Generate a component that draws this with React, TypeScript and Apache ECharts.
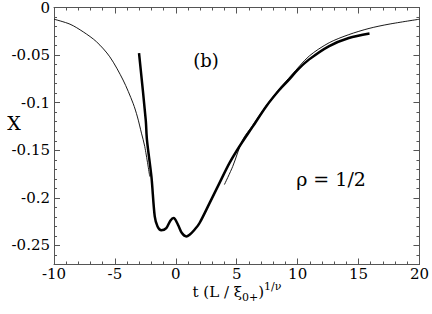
import React, { useEffect, useRef } from "react";
import * as echarts from "echarts";

const thinLeftX = [-10, -8.69, -7.6, -6.51, -5.42, -4.33, -3.51, -3.15, -2.82, -2.55, -2.14];
const thinLeftY = [-0.0123, -0.0175, -0.0256, -0.036, -0.0518, -0.0762, -0.1006, -0.115, -0.132, -0.146, -0.1776];

const thickX = [-3.02, -2.47, -2.37, -2.0, -1.73, -1.5, -1.19, -0.78, -0.45, -0.18, 0.17, 0.5, 0.86, 1.13, 1.5, 1.95, 2.77, 3.58, 4.4, 5.22, 6.31, 7.4, 8.49, 9.31, 10.0, 10.95, 12.59, 14.2, 15.9];
const thickY = [-0.048, -0.118, -0.139, -0.178, -0.2195, -0.23, -0.234, -0.2317, -0.224, -0.2212, -0.228, -0.237, -0.2405, -0.2387, -0.234, -0.2264, -0.2055, -0.1845, -0.1635, -0.146, -0.1252, -0.1042, -0.0867, -0.0755, -0.0655, -0.0545, -0.0405, -0.032, -0.0273];

const thinRightX = [3.99, 4.67, 5.49, 6.3, 7.4, 8.5, 9.5, 10.95, 12.59, 14.2, 15.86, 17.5, 20];
const thinRightY = [-0.186, -0.167, -0.139, -0.124, -0.1035, -0.0855, -0.071, -0.051, -0.037, -0.0285, -0.022, -0.0175, -0.0123];

const yMajorTicks = [0, -0.05, -0.1, -0.15, -0.2, -0.25];
const yMinorTicks = [-0.01, -0.02, -0.03, -0.04, -0.06, -0.07, -0.08, -0.09, -0.11, -0.12, -0.13, -0.14, -0.16, -0.17, -0.18, -0.19, -0.21, -0.22, -0.23, -0.24, -0.26];

const FONT = "DejaVu Serif";
const AXIS_COLOR = "#555";

function zip(xs: number[], ys: number[]) {
  return xs.map((x, i) => [x, ys[i]]);
}

export default function App() {
  const ref = useRef<HTMLDivElement>(null);
  useEffect(() => {
    if (!ref.current) return;
    const chart = echarts.init(ref.current, undefined, { renderer: "svg" });
    const common = { min: -0.27, max: 0, type: "value" as const, splitLine: { show: false } };
    const yAxes = [
      {
        ...common,
        position: "left",
        axisLine: { show: true, onZero: false, lineStyle: { color: AXIS_COLOR, width: 1 } },
        axisTick: { show: true, inside: true, length: 6, customValues: yMajorTicks, lineStyle: { color: AXIS_COLOR } },
        axisLabel: { show: true, customValues: yMajorTicks, margin: 4, color: "#000", fontFamily: FONT, fontSize: 15, formatter: (v: number) => String(v) },
      },
      {
        ...common,
        position: "left",
        axisLine: { show: false, onZero: false },
        axisTick: { show: true, inside: true, length: 3, customValues: yMinorTicks, lineStyle: { color: AXIS_COLOR } },
        axisLabel: { show: false },
      },
      {
        ...common,
        position: "right",
        axisLine: { show: true, onZero: false, lineStyle: { color: AXIS_COLOR, width: 1 } },
        axisTick: { show: true, inside: true, length: 6, customValues: yMajorTicks, lineStyle: { color: AXIS_COLOR } },
        axisLabel: { show: false },
      },
      {
        ...common,
        position: "right",
        axisLine: { show: false, onZero: false },
        axisTick: { show: true, inside: true, length: 3, customValues: yMinorTicks, lineStyle: { color: AXIS_COLOR } },
        axisLabel: { show: false },
      },
    ];
    const xCommon = { type: "value" as const, min: -10, max: 20, interval: 5, splitLine: { show: false } };
    const lineCommon = { type: "line", showSymbol: false, smooth: 0.3, xAxisIndex: 0, yAxisIndex: 0 };
    chart.setOption({
      animation: false,
      grid: { left: 54, right: 11, top: 7, bottom: 49.5, containLabel: false },
      xAxis: [
        {
          ...xCommon,
          position: "bottom",
          axisLine: { show: true, onZero: false, lineStyle: { color: AXIS_COLOR } },
          axisTick: { show: true, inside: true, length: 6, lineStyle: { color: AXIS_COLOR } },
          minorTick: { show: true, splitNumber: 5, length: 3, lineStyle: { color: AXIS_COLOR } },
          axisLabel: { show: true, margin: 2, color: "#000", fontFamily: FONT, fontSize: 15 },
        },
        {
          ...xCommon,
          position: "top",
          axisLine: { show: true, onZero: false, lineStyle: { color: AXIS_COLOR } },
          axisTick: { show: true, inside: true, length: 6, lineStyle: { color: AXIS_COLOR } },
          minorTick: { show: true, splitNumber: 5, length: 3, lineStyle: { color: AXIS_COLOR } },
          axisLabel: { show: false },
        },
      ],
      yAxis: yAxes,
      series: [
        { ...lineCommon, data: zip(thinLeftX, thinLeftY), lineStyle: { color: "#000", width: 0.9 } },
        { ...lineCommon, data: zip(thinRightX, thinRightY), lineStyle: { color: "#000", width: 0.9 } },
        { ...lineCommon, data: zip(thickX, thickY), lineStyle: { color: "#000", width: 2.5 } },
      ],
      graphic: [
        {
          type: "text",
          x: 14,
          y: 123,
          style: { text: "X", fontFamily: FONT, fontSize: 19, fill: "#000", align: "center", verticalAlign: "middle" },
        },
        {
          type: "text",
          x: 206,
          y: 60,
          style: { text: "(b)", fontFamily: FONT, fontSize: 18, fill: "#000", align: "center", verticalAlign: "middle" },
        },
        {
          type: "text",
          x: 331,
          y: 179,
          style: { text: "ρ = 1/2", fontFamily: FONT, fontSize: 19, fill: "#000", align: "center", verticalAlign: "middle" },
        },
        {
          type: "text",
          x: 237,
          y: 292,
          style: {
            text: "{m|t (L / ξ}{sub|0+}{m|)}{sup|1/ν}",
            align: "center",
            verticalAlign: "middle",
            rich: {
              m: { fontFamily: FONT, fontSize: 15, fill: "#000", lineHeight: 22, verticalAlign: "middle" },
              sub: { fontFamily: FONT, fontSize: 11, fill: "#000", lineHeight: 10, verticalAlign: "bottom" },
              sup: { fontFamily: FONT, fontSize: 11, fill: "#000", lineHeight: 10, verticalAlign: "top" },
            },
          },
        },
      ],
    });
    return () => chart.dispose();
  }, []);
  return <div ref={ref} style={{ width: 432, height: 314, position: "absolute", left: 0, top: 0, background: "#fff" }} />;
}
